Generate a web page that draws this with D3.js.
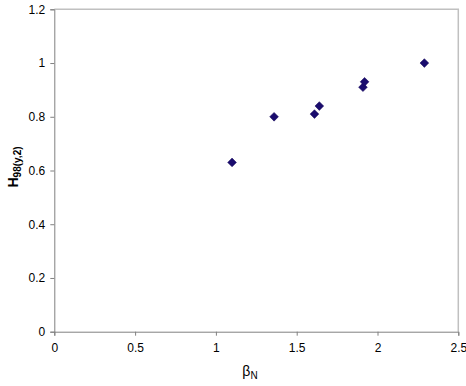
<!DOCTYPE html>
<html><head><meta charset="utf-8">
<script src="https://cdn.jsdelivr.net/npm/d3@7"></script>
<style>body{margin:0;background:#fff}svg{display:block}text{font-family:"Liberation Sans",Arial,sans-serif}</style>
</head><body><svg id="c" width="466" height="386"></svg>
<script>
const betaN = [1.10, 1.36, 1.61, 1.64, 1.91, 1.92, 2.29];
const h98 = [0.63, 0.80, 0.81, 0.84, 0.91, 0.93, 1.00];
const xTicks = [0, 0.5, 1, 1.5, 2, 2.5];
const yTicks = [0, 0.2, 0.4, 0.6, 0.8, 1, 1.2];

const svg = d3.select("#c");
const m = {l:54.3, r:458.3, t:9.3, b:331.7};
const x = d3.scaleLinear().domain([0,2.5]).range([m.l, m.r]);
const y = d3.scaleLinear().domain([0,1.2]).range([m.b, m.t]);

svg.append("path").attr("d",`M${m.l},${m.t}H${m.r}V${m.b}`).attr("fill","none").attr("stroke","#c0c0c0").attr("stroke-width",1.5);

const xa = svg.append("g").attr("transform",`translate(0,${m.b})`)
  .call(d3.axisBottom(x).tickValues(xTicks).tickFormat(d3.format("")).tickSizeOuter(0).tickSize(4).tickPadding(8));
const ya = svg.append("g").attr("transform",`translate(${m.l},0)`)
  .call(d3.axisLeft(y).tickValues(yTicks).tickFormat(d3.format("")).tickSizeOuter(0).tickSize(4).tickPadding(5));
[xa,ya].forEach(a=>{a.select(".domain").attr("stroke","#808080");a.selectAll(".tick line").attr("stroke","#808080");
  a.selectAll("text").attr("font-size",12).attr("fill","#000").attr("font-family","Liberation Sans, Arial, sans-serif");});

const sym = d3.symbol().type(d3.symbolSquare).size(38);
svg.append("g").selectAll("path").data(betaN).join("path")
  .attr("transform",(d,i)=>`translate(${x(d)},${y(h98[i])}) rotate(45)`)
  .attr("d",sym).attr("fill","#1a0c6e").attr("stroke","#14085a").attr("stroke-width",0.5);

const xl = svg.append("text").attr("x",250).attr("y",376).attr("text-anchor","middle").attr("font-size",14).attr("fill","#000");
xl.append("tspan").text("β");
xl.append("tspan").attr("font-size",10).attr("dy",3).text("N");

const yl = svg.append("text").attr("transform","translate(18,167) rotate(-90)").attr("text-anchor","middle")
  .attr("font-size",14).attr("font-weight","bold").attr("fill","#000");
yl.append("tspan").text("H");
yl.append("tspan").attr("font-size",10).attr("dy",3).text("98(y,2)");
</script></body></html>
